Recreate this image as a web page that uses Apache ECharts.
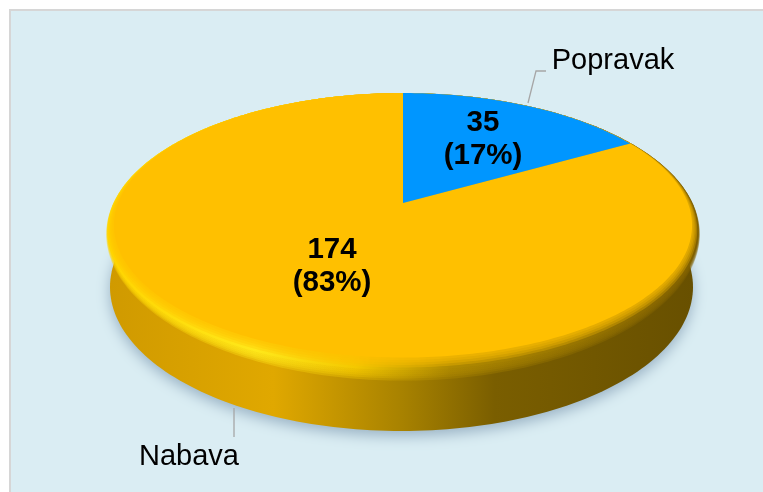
<!DOCTYPE html>
<html>
<head>
<meta charset="utf-8">
<script src="https://cdn.jsdelivr.net/npm/echarts@6/dist/echarts.min.js"></script>
<style>
    html, body { margin: 0; padding: 0; background: #fff; }
    #chart { width: 763px; height: 492px; }
</style>
</head>
<body>
<div id="chart"></div>
<script>
    var categories = ['Popravak', 'Nabava'];
    var values = [35, 174];
    var percents = ['17%', '83%'];
    var colors = ['#0096FF', '#FFC000'];

    // screen places of the texts and their leader lines
    var valueLabelAt = [[483, 139], [332, 266]];
    var nameLabelAt = [[613, 61], [189, 457]];
    var leaders = [
        [[528, 103], [536, 71], [546, 71]],
        [[234, 408], [234, 437]]
    ];

    // the disc is seen in perspective, so the slice apex is not the middle of the ellipse
    var apex = [403, 203];
    var persp = 0.2058, scaleX = 289.2, scaleY = 132.6;
    var total = values.reduce(function (a, b) { return a + b; }, 0);

    function project(angle, r) {
        var u = Math.sin(angle) * r, v = Math.cos(angle) * r;
        var w = 1 + persp * v;
        return [apex[0] + scaleX * u / w, apex[1] - scaleY * v / w];
    }

    // k pulls the rim in at the front only, the back edge stays put
    function rimRadius(angle, k) {
        var f = (1 - Math.cos(angle)) / 2;
        return 1 - k * (k > 0 ? f * f : f * f * f * f * f);
    }

    function ellipse(cx, cy, rx, ry) {
        var pts = [];
        for (var i = 0; i < 240; i++) {
            var a = i / 240 * Math.PI * 2;
            pts.push([cx + rx * Math.cos(a), cy + ry * Math.sin(a)]);
        }
        return pts;
    }

    function rimPoints(k) {
        var pts = [];
        for (var i = 0; i < 360; i++) {
            var a = i / 360 * Math.PI * 2;
            pts.push(project(a, rimRadius(a, k)));
        }
        return pts;
    }

    function bevelFill() {
        return new echarts.graphic.LinearGradient(0, 0, 1, 0, [
            { offset: 0, color: '#ffd400' },
            { offset: 0.25, color: '#ffe81a' },
            { offset: 0.42, color: '#f4c800' },
            { offset: 0.58, color: '#b08a00' },
            { offset: 1, color: '#806000' }
        ]);
    }

    function renderBody() {
        var children = [{
            // side wall with its shadow on the panel
            type: 'polygon',
            shape: { points: ellipse(401.5, 287, 291.5, 144) },
            style: {
                fill: new echarts.graphic.LinearGradient(0, 0, 1, 0, [
                    { offset: 0, color: '#d09a00' },
                    { offset: 0.28, color: '#e0a800' },
                    { offset: 0.5, color: '#a88200' },
                    { offset: 0.66, color: '#7a5e00' },
                    { offset: 1, color: '#685000' }
                ]),
                shadowColor: 'rgba(90,120,150,0.5)',
                shadowBlur: 14,
                shadowOffsetY: 5
            }
        }];
        // soft bevel: stacked rings fading wall -> highlight -> top face
        for (var j = 0; j < 6; j++) {
            children.push({
                type: 'polygon',
                z2: 1,
                shape: { points: rimPoints(-0.05 + j * 0.01) },
                style: { fill: bevelFill(), opacity: 0.35 }
            });
        }
        children.push({
            type: 'polygon',
            z2: 1,
            shape: { points: rimPoints(0) },
            style: { fill: bevelFill() }
        });
        for (var n = 1; n < 5; n++) {
            children.push({
                type: 'polygon',
                z2: 1,
                shape: { points: rimPoints(n * 0.012) },
                style: { fill: colors[1], opacity: 0.3 }
            });
        }
        return { type: 'group', children: children };
    }

    function renderSlice(params, api) {
        var i = params.dataIndex;
        var start = 0;
        for (var k = 0; k < i; k++) start += values[k] / total * Math.PI * 2;
        var end = start + api.value(0) / total * Math.PI * 2;
        var pts = [apex];
        var steps = Math.ceil((end - start) * 60);
        for (var s = 0; s <= steps; s++) {
            var a = start + (end - start) * s / steps;
            pts.push(project(a, rimRadius(a, 0.06)));
        }
        var children = [{
            type: 'polygon',
            z2: i === 0 ? 3 : 2,
            shape: { points: pts },
            style: { fill: colors[i] }
        }, {
            type: 'text',
            z2: 6,
            style: {
                x: valueLabelAt[i][0],
                y: valueLabelAt[i][1],
                text: api.value(0) + '\n(' + percents[i] + ')',
                fill: '#000',
                font: 'bold 29.5px "Liberation Sans"',
                lineHeight: 33,
                align: 'center',
                verticalAlign: 'middle'
            }
        }, {
            type: 'text',
            z2: 6,
            style: {
                x: nameLabelAt[i][0],
                y: nameLabelAt[i][1],
                text: categories[i],
                fill: '#000',
                font: '29px "Liberation Sans"',
                align: 'center',
                verticalAlign: 'middle'
            }
        }, {
            type: 'polyline',
            z2: 6,
            shape: { points: leaders[i] },
            style: { fill: null, stroke: '#a6a6a6', lineWidth: 1.3 }
        }];
        return { type: 'group', children: children };
    }

    var options = {
        animation: false,
        backgroundColor: '#fff',
        graphic: [{
            type: 'rect',
            z: -10,
            shape: { x: 10, y: 10, width: 770, height: 500 },
            style: { fill: '#DAEDF3', stroke: '#D6D6D6', lineWidth: 2 }
        }],
        series: [{
            type: 'custom',
            coordinateSystem: 'none',
            silent: true,
            data: [0],
            renderItem: renderBody
        }, {
            type: 'custom',
            coordinateSystem: 'none',
            silent: true,
            data: values,
            renderItem: renderSlice
        }]
    };

    var myChart = echarts.init(document.getElementById('chart'));
    myChart.setOption(options);
</script>
</body>
</html>
